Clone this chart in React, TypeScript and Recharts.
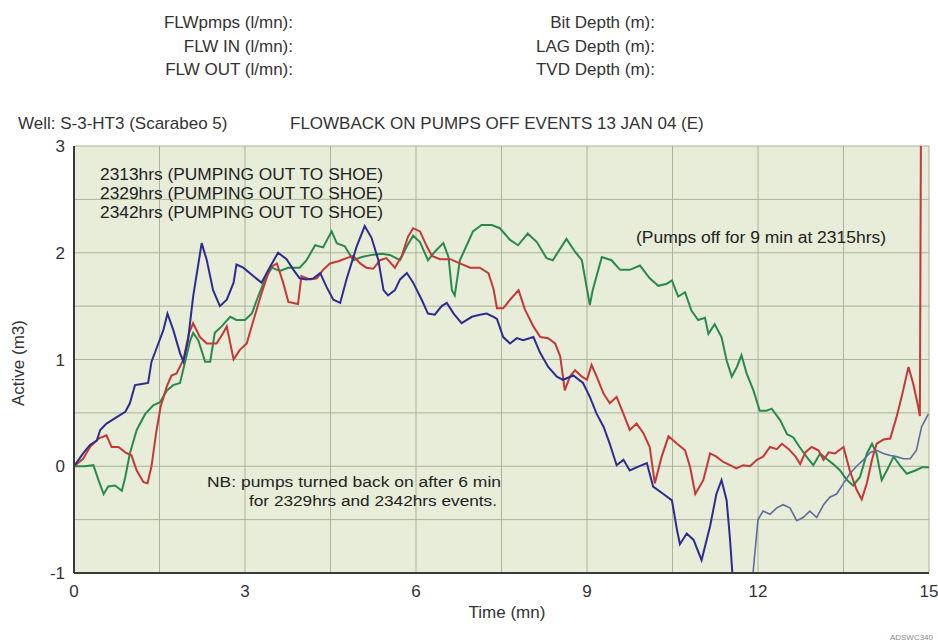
import React from 'react';
import { LineChart, Line, XAxis, YAxis, CartesianGrid } from 'recharts';

const timeTicks = [0, 1.5, 3, 4.5, 6, 7.5, 9, 10.5, 12, 13.5, 15];
const activeTicks = [-1, -0.5, 0, 0.5, 1, 1.5, 2, 2.5, 3];

// 2313hrs event (pumps off for 9 min) — [time (mn), active (m3)]
const event2313: [number, number][] = [
  [0, 0], [0.19, 0.0], [0.34, 0.01], [0.43, -0.13], [0.52, -0.26], [0.6, -0.19], [0.72, -0.18], [0.84, -0.23],
  [0.9, -0.1], [0.98, 0.12], [1.1, 0.34], [1.25, 0.49], [1.39, 0.57], [1.51, 0.6], [1.63, 0.71], [1.74, 0.76],
  [1.86, 0.78], [1.95, 0.98], [2.04, 1.18], [2.09, 1.25], [2.18, 1.18], [2.3, 0.98], [2.39, 0.98], [2.47, 1.25],
  [2.59, 1.31], [2.74, 1.4], [2.85, 1.37], [3.0, 1.37], [3.12, 1.43], [3.23, 1.59], [3.35, 1.75], [3.47, 1.86],
  [3.61, 1.83], [3.76, 1.86], [3.96, 1.86], [4.08, 1.93], [4.23, 2.07], [4.37, 2.05], [4.52, 2.2], [4.61, 2.09],
  [4.75, 2.06], [4.9, 1.93], [5.05, 1.96], [5.22, 1.98], [5.4, 1.99], [5.54, 1.98], [5.72, 1.93], [5.84, 2.06],
  [5.95, 2.16], [6.07, 2.1], [6.21, 1.93], [6.33, 2.01], [6.48, 2.09], [6.57, 1.96], [6.63, 1.65], [6.68, 1.6],
  [6.77, 1.93], [6.89, 2.07], [7.0, 2.2], [7.15, 2.26], [7.33, 2.26], [7.47, 2.23], [7.65, 2.12], [7.79, 2.07],
  [7.96, 2.18], [8.12, 2.1], [8.29, 1.95], [8.4, 1.93], [8.64, 2.13], [8.79, 2.01], [8.91, 1.93], [9.05, 1.51],
  [9.1, 1.65], [9.26, 1.96], [9.43, 1.93], [9.58, 1.84], [9.75, 1.84], [9.93, 1.88], [10.1, 1.76], [10.25, 1.69],
  [10.4, 1.71], [10.49, 1.74], [10.6, 1.59], [10.72, 1.63], [10.83, 1.46], [10.95, 1.37], [11.07, 1.39], [11.13, 1.24],
  [11.24, 1.33], [11.36, 1.21], [11.45, 0.99], [11.54, 0.84], [11.63, 0.93], [11.71, 1.04], [11.8, 0.87], [11.92, 0.71],
  [12.03, 0.52], [12.15, 0.52], [12.24, 0.54], [12.39, 0.43], [12.51, 0.3], [12.62, 0.27], [12.73, 0.18], [12.85, 0.09],
  [12.97, 0.01], [13.09, 0.12], [13.2, 0.07], [13.32, 0.02], [13.44, -0.04], [13.56, -0.13], [13.67, -0.18], [13.79, -0.1],
  [13.91, 0.12], [14.0, 0.21], [14.08, 0.12], [14.17, -0.13], [14.26, -0.04], [14.38, 0.09], [14.5, 0.0], [14.61, -0.07],
  [14.76, -0.04], [14.88, -0.01], [15.0, -0.01],
];

// 2329hrs event
const event2329: [number, number][] = [
  [0, 0], [0.16, 0.07], [0.28, 0.18], [0.43, 0.26], [0.57, 0.29], [0.66, 0.18], [0.78, 0.18], [0.9, 0.13],
  [1.01, 0.1], [1.1, -0.04], [1.22, -0.15], [1.29, -0.16], [1.36, 0.0], [1.44, 0.31], [1.52, 0.56], [1.63, 0.75],
  [1.71, 0.85], [1.8, 0.87], [1.92, 1.0], [2.02, 1.25], [2.09, 1.34], [2.21, 1.21], [2.33, 1.15], [2.5, 1.15],
  [2.62, 1.25], [2.68, 1.31], [2.8, 1.0], [2.91, 1.09], [3.03, 1.15], [3.15, 1.37], [3.29, 1.62], [3.44, 1.86],
  [3.56, 1.9], [3.67, 1.72], [3.76, 1.54], [3.93, 1.52], [3.99, 1.78], [4.14, 1.75], [4.26, 1.76], [4.37, 1.84],
  [4.49, 1.9], [4.64, 1.92], [4.78, 1.95], [4.9, 1.97], [5.02, 1.9], [5.13, 1.86], [5.25, 1.85], [5.37, 1.93],
  [5.48, 1.95], [5.63, 1.86], [5.75, 1.97], [5.86, 2.15], [5.95, 2.23], [6.07, 2.2], [6.19, 2.06], [6.28, 1.97],
  [6.42, 1.94], [6.6, 1.94], [6.77, 1.9], [6.95, 1.86], [7.12, 1.86], [7.27, 1.81], [7.36, 1.66], [7.42, 1.48],
  [7.53, 1.48], [7.65, 1.56], [7.8, 1.65], [7.91, 1.47], [8.06, 1.31], [8.18, 1.21], [8.32, 1.2], [8.44, 1.15],
  [8.53, 1.03], [8.61, 0.71], [8.7, 0.84], [8.79, 0.9], [8.91, 0.84], [9.0, 0.81], [9.08, 0.95], [9.17, 0.84],
  [9.29, 0.68], [9.4, 0.59], [9.52, 0.65], [9.64, 0.49], [9.75, 0.34], [9.87, 0.4], [9.99, 0.31], [10.1, 0.18],
  [10.19, -0.16], [10.31, 0.09], [10.43, 0.28], [10.58, 0.21], [10.72, 0.15], [10.81, -0.01], [10.9, -0.26], [11.04, -0.13],
  [11.16, 0.12], [11.27, 0.09], [11.39, 0.04], [11.51, 0.01], [11.62, -0.02], [11.74, 0.01], [11.86, 0.0], [11.98, 0.06],
  [12.09, 0.09], [12.21, 0.18], [12.33, 0.16], [12.42, 0.21], [12.54, 0.16], [12.66, 0.09], [12.74, 0.02], [12.83, 0.13],
  [12.94, 0.18], [13.06, 0.15], [13.15, 0.06], [13.24, 0.13], [13.35, 0.12], [13.5, 0.18], [13.61, -0.04], [13.73, -0.22],
  [13.82, -0.31], [13.91, -0.16], [14.0, 0.06], [14.08, 0.21], [14.2, 0.25], [14.32, 0.26], [14.43, 0.46], [14.52, 0.65],
  [14.64, 0.93], [14.72, 0.78], [14.81, 0.56], [14.84, 0.47], [14.86, 3.4],
];

// 2342hrs event (until it leaves the bottom of the chart)
const event2342: [number, number][] = [
  [0, 0], [0.16, 0.12], [0.28, 0.2], [0.4, 0.24], [0.46, 0.34], [0.57, 0.4], [0.75, 0.46], [0.9, 0.51],
  [0.98, 0.59], [1.07, 0.76], [1.19, 0.77], [1.3, 0.78], [1.36, 0.98], [1.48, 1.15], [1.57, 1.28], [1.64, 1.43],
  [1.74, 1.28], [1.86, 1.06], [1.92, 0.98], [2.0, 1.18], [2.09, 1.59], [2.24, 2.09], [2.33, 1.93], [2.44, 1.65],
  [2.56, 1.5], [2.68, 1.56], [2.8, 1.72], [2.85, 1.89], [2.97, 1.86], [3.15, 1.78], [3.29, 1.72], [3.44, 1.87],
  [3.58, 2.0], [3.73, 1.94], [3.85, 1.84], [3.96, 1.76], [4.08, 1.75], [4.2, 1.76], [4.32, 1.81], [4.43, 1.68],
  [4.55, 1.56], [4.67, 1.53], [4.78, 1.75], [4.96, 2.06], [5.1, 2.25], [5.22, 2.14], [5.34, 1.93], [5.43, 1.65],
  [5.51, 1.6], [5.63, 1.65], [5.72, 1.75], [5.84, 1.81], [5.95, 1.72], [6.1, 1.56], [6.21, 1.43], [6.33, 1.42],
  [6.45, 1.5], [6.54, 1.53], [6.66, 1.43], [6.8, 1.34], [6.98, 1.4], [7.12, 1.42], [7.24, 1.43], [7.36, 1.4],
  [7.42, 1.38], [7.53, 1.21], [7.65, 1.15], [7.77, 1.2], [7.88, 1.18], [8.06, 1.21], [8.18, 1.06], [8.32, 0.93],
  [8.47, 0.84], [8.58, 0.81], [8.76, 0.85], [8.93, 0.78], [9.05, 0.65], [9.17, 0.49], [9.29, 0.37], [9.4, 0.21],
  [9.52, 0.01], [9.64, 0.06], [9.75, -0.04], [9.87, -0.01], [10.05, 0.03], [10.16, -0.19], [10.34, -0.26], [10.49, -0.32],
  [10.58, -0.6], [10.63, -0.73], [10.75, -0.63], [10.87, -0.69], [11.01, -0.88], [11.16, -0.56], [11.27, -0.26], [11.36, -0.13],
  [11.45, -0.32], [11.51, -0.69], [11.55, -1.0], [11.6, -1.4],
];

// 2342hrs event after it comes back into range
const event2342Late: [number, number][] = [
  [11.88, -1.2], [11.93, -0.9], [12.0, -0.5], [12.09, -0.42], [12.21, -0.45], [12.33, -0.39], [12.44, -0.36], [12.56, -0.39],
  [12.68, -0.51], [12.79, -0.48], [12.91, -0.42], [13.03, -0.48], [13.15, -0.36], [13.26, -0.29], [13.38, -0.26], [13.5, -0.16],
  [13.61, -0.07], [13.73, 0.0], [13.85, 0.06], [13.97, 0.13], [14.08, 0.15], [14.2, 0.12], [14.32, 0.1], [14.43, 0.09],
  [14.55, 0.07], [14.67, 0.07], [14.78, 0.15], [14.87, 0.37], [14.99, 0.49],
];

const toRows = (pts: [number, number][]) => pts.map(([t, v]) => ({ t, v }));

const rows2313 = toRows(event2313);
const rows2329 = toRows(event2329);
const rows2342 = toRows(event2342);
const rows2342Late = toRows(event2342Late);

const fmtTime = (v: number) => (v % 3 === 0 ? String(v) : '');
const fmtActive = (v: number) => (Number.isInteger(v) ? String(v) : '');

const FONT = '"Liberation Sans", Arial, sans-serif';
const TXT = '#333333';

export default function App() {
  return (
    <div
      style={{
        position: 'absolute',
        left: 0,
        top: 0,
        width: 938,
        height: 642,
        background: '#ffffff',
        fontFamily: FONT,
      }}
    >
      <LineChart width={938} height={642} margin={{ top: 146, right: 9, bottom: 39, left: 14 }}>
        <CartesianGrid fill="#e7edd8" fillOpacity={1} stroke="#adb398" strokeWidth={1} />
        <XAxis
          dataKey="t"
          type="number"
          domain={[0, 15]}
          ticks={timeTicks}
          interval={0}
          tickFormatter={fmtTime}
          allowDataOverflow
          height={30}
          axisLine={{ stroke: '#3a3a3a', strokeWidth: 2 }}
          tickLine={false}
          tickMargin={6}
          tick={{ fill: TXT, fontSize: 17, fontFamily: FONT }}
        />
        <YAxis
          dataKey="v"
          type="number"
          domain={[-1, 3]}
          ticks={activeTicks}
          interval={0}
          tickFormatter={fmtActive}
          allowDataOverflow
          width={60}
          axisLine={{ stroke: '#3a3a3a', strokeWidth: 2 }}
          tickLine={false}
          tickMargin={3}
          tick={{ fill: TXT, fontSize: 17, fontFamily: FONT }}
        />
        <Line data={rows2313} dataKey="v" type="linear" stroke="#2a8a4c" strokeWidth={2} dot={false} isAnimationActive={false} />
        <Line data={rows2342Late} dataKey="v" type="linear" stroke="#5e6c9e" strokeWidth={1.6} dot={false} isAnimationActive={false} />
        <Line data={rows2329} dataKey="v" type="linear" stroke="#c43838" strokeWidth={2} dot={false} isAnimationActive={false} />
        <Line data={rows2342} dataKey="v" type="linear" stroke="#2c2c92" strokeWidth={2} dot={false} isAnimationActive={false} />
      </LineChart>
      <svg
        width={938}
        height={642}
        style={{ position: 'absolute', left: 0, top: 0, pointerEvents: 'none' }}
        fontFamily={FONT}
      >
        <g fill={TXT} fontSize={17}>
          <text x={293} y={28} textAnchor="end">FLWpmps (l/mn):</text>
          <text x={293} y={52} textAnchor="end">FLW IN (l/mn):</text>
          <text x={293} y={75} textAnchor="end">FLW OUT (l/mn):</text>
          <text x={655} y={28} textAnchor="end">Bit Depth (m):</text>
          <text x={655} y={52} textAnchor="end">LAG Depth (m):</text>
          <text x={655} y={75} textAnchor="end">TVD Depth (m):</text>
          <text x={18} y={129}>Well: S-3-HT3 (Scarabeo 5)</text>
          <text x={290} y={129}>FLOWBACK ON PUMPS OFF EVENTS 13 JAN 04 (E)</text>
        </g>
        <g fill="#222222" fontSize={16}>
          <text x={100} y={180} textLength={283} lengthAdjust="spacingAndGlyphs">2313hrs (PUMPING OUT TO SHOE)</text>
          <text x={100} y={199} textLength={283} lengthAdjust="spacingAndGlyphs">2329hrs (PUMPING OUT TO SHOE)</text>
          <text x={100} y={218} textLength={283} lengthAdjust="spacingAndGlyphs">2342hrs (PUMPING OUT TO SHOE)</text>
          <text x={636} y={243} textLength={250} lengthAdjust="spacingAndGlyphs">(Pumps off for 9 min at 2315hrs)</text>
        </g>
        <g fill="#222222" fontSize={15.5}>
          <text x={501} y={487} textAnchor="end" textLength={294} lengthAdjust="spacingAndGlyphs">NB: pumps turned back on after 6 min</text>
          <text x={497} y={506} textAnchor="end" textLength={248} lengthAdjust="spacingAndGlyphs">for 2329hrs and 2342hrs events.</text>
        </g>
        <text x={507} y={618} textAnchor="middle" fill={TXT} fontSize={17}>Time (mn)</text>
        <text transform="translate(24,363) rotate(-90)" textAnchor="middle" fill={TXT} fontSize={17}>Active (m3)</text>
        <text x={933} y={640} textAnchor="end" fill="#8a8a8a" fontSize={8}>ADSWC340</text>
      </svg>
    </div>
  );
}
